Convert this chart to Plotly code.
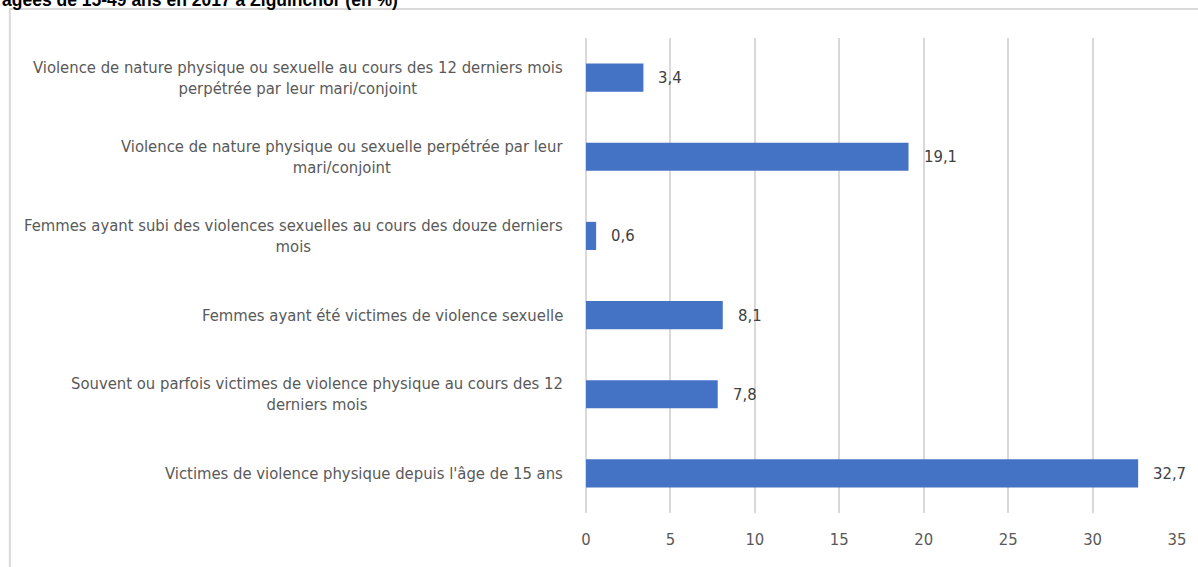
import plotly.graph_objects as go

categories = [
    "Violence de nature physique ou sexuelle au cours des 12 derniers mois<br>perpétrée par leur mari/conjoint",
    "Violence de nature physique ou sexuelle perpétrée par leur<br>mari/conjoint",
    "Femmes ayant subi des violences sexuelles au cours des douze derniers<br>mois",
    "Femmes ayant été victimes de violence sexuelle",
    "Souvent ou parfois victimes de violence physique au cours des 12<br>derniers mois",
    "Victimes de violence physique depuis l'âge de 15 ans",
]
values = [3.4, 19.1, 0.6, 8.1, 7.8, 32.7]
x_ticks = [0, 5, 10, 15, 20, 25, 30, 35]
title_text = "âgées de 15-49 ans en 2017 à Ziguinchor (en %)"

FONT = "Liberation Sans Narrow, Arial Narrow, DejaVu Sans Condensed, sans-serif"
GRAY = "#595959"

fig = go.Figure()
fig.add_trace(go.Bar(
    y=categories, x=values, orientation="h",
    marker=dict(color="#4472C4", line=dict(width=0)),
    width=0.355, hoverinfo="skip",
))

annotations = []
for c, v in zip(categories, values):
    annotations.append(dict(
        x=0, y=c, xref="x", yref="y", text=c, showarrow=False,
        xanchor="right", yanchor="middle", align="center", xshift=-21,
        font=dict(family=FONT, size=16.5, color=GRAY),
    ))
    annotations.append(dict(
        x=v, y=c, xref="x", yref="y", text=f"{v:.1f}".replace(".", ","),
        showarrow=False, xanchor="left", yanchor="middle", xshift=13,
        font=dict(family=FONT, size=16.5, color="#404040"),
    ))
annotations.append(dict(
    x=0, y=1, xref="paper", yref="paper", text="<b>" + title_text + "</b>",
    showarrow=False, xanchor="left", yanchor="middle", yshift=38, xshift=-586,
    font=dict(family="Liberation Sans, Arial, sans-serif", size=17.5, color="#000000"),
))

fig.update_layout(
    width=1198, height=567,
    margin=dict(l=586, r=15, t=38, b=54),
    paper_bgcolor="white", plot_bgcolor="white",
    showlegend=False,
    annotations=annotations,
    shapes=[dict(type="rect", xref="paper", yref="paper",
                 x0=-582 / 597, x1=1.2, y0=-0.3, y1=1 + 29 / 475,
                 line=dict(color="#d9d9d9", width=2), layer="below")],
    xaxis=dict(range=[0, 35], tickvals=x_ticks, showgrid=True,
               gridcolor="#d9d9d9", gridwidth=1.5, zeroline=True,
               zerolinecolor="#d9d9d9", zerolinewidth=1.5,
               showline=False, ticks="", ticklabelstandoff=14,
               tickfont=dict(family=FONT, size=16.5, color=GRAY)),
    yaxis=dict(autorange="reversed", showticklabels=False, showgrid=False,
               zeroline=False, showline=False, ticks=""),
)

fig.write_html("out.html", config={"displayModeBar": False},
               post_script="document.body.style.margin='0';")
